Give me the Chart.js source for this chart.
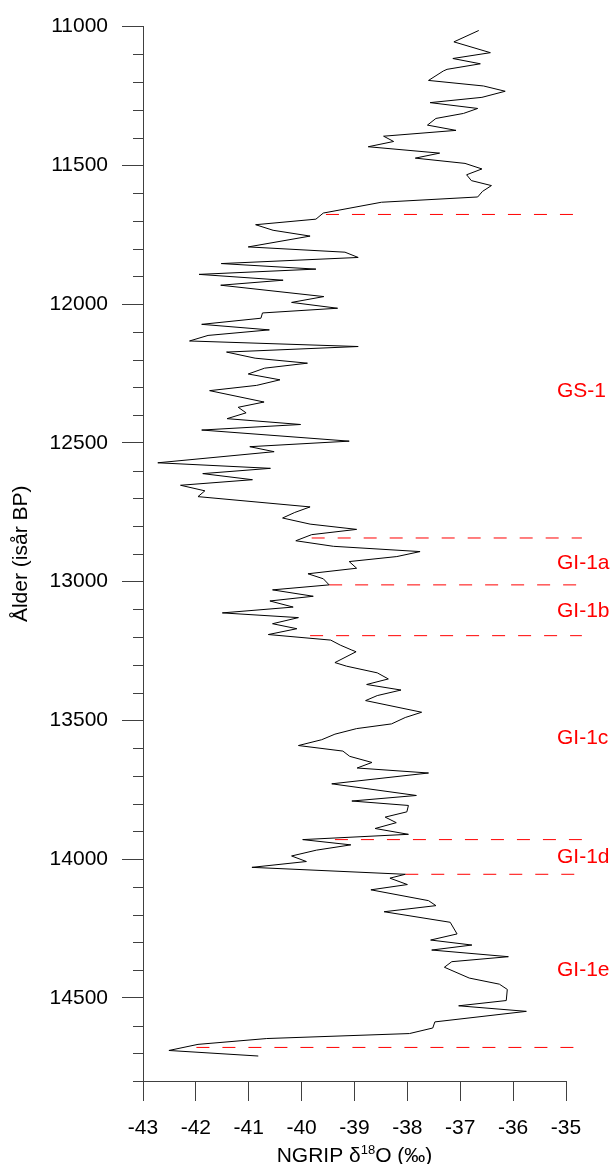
<!DOCTYPE html>
<html lang="sv">
<head>
<meta charset="utf-8" />
<title>NGRIP δ18O</title>
<style>
  html, body { margin: 0; padding: 0; background: #fff; }
  #wrap { width: 613px; height: 1164px; position: relative; }
</style>
<script src="https://cdn.jsdelivr.net/npm/chart.js"></script>
</head>
<body>
<div id="wrap"><canvas id="ngrip"></canvas></div>
<script>
// ålder (isår BP) och d18O, uppifrån och ned
const ages = [
  11014, 11055, 11094, 11115, 11134, 11154, 11160, 11194, 11214, 11233,
  11255, 11274, 11295, 11313, 11331, 11355, 11374, 11395, 11414, 11433,
  11456, 11474, 11493, 11513, 11534, 11555, 11573, 11594, 11614, 11633,
  11672, 11694, 11714, 11734, 11755, 11794, 11813, 11832, 11854, 11874,
  11893, 11914, 11932, 11973, 11994, 12015, 12032, 12051, 12073, 12093,
  12113, 12133, 12153, 12173, 12195, 12213, 12231, 12252, 12273, 12293,
  12312, 12353, 12372, 12392, 12413, 12434, 12454, 12494, 12514, 12532,
  12572, 12592, 12611, 12633, 12653, 12673, 12694, 12731, 12751, 12771,
  12793, 12812, 12831, 12853, 12873, 12892, 12910, 12928, 12952, 12972,
  12990, 13012, 13030, 13053, 13070, 13092, 13113, 13130, 13152, 13170,
  13191, 13211, 13229, 13247, 13253, 13292, 13305, 13329, 13351, 13371,
  13391, 13411, 13429, 13471, 13490, 13513, 13530, 13550, 13570, 13591,
  13611, 13630, 13652, 13672, 13690, 13729, 13771, 13791, 13807, 13830,
  13849, 13869, 13890, 13911, 13930, 13949, 13968, 13989, 14009, 14030,
  14055, 14069, 14092, 14111, 14150, 14168, 14190, 14228, 14270, 14292,
  14310, 14328, 14352, 14370, 14390, 14429, 14451, 14470, 14510, 14529,
  14549, 14587, 14609, 14629, 14647, 14668, 14690, 14710
];
const d18O = [
  -36.65, -37.12, -36.43, -37.14, -36.62, -37.25, -37.32, -37.60, -36.56, -36.15,
  -36.59, -37.57, -36.67, -36.94, -37.46, -37.62, -37.08, -38.45, -38.26, -38.74,
  -37.39, -37.85, -36.91, -36.59, -36.88, -36.79, -36.41, -36.58, -36.67, -38.49,
  -39.59, -39.73, -40.87, -40.54, -39.84, -41.01, -39.18, -38.93, -41.52, -39.73,
  -41.94, -40.35, -41.53, -39.58, -40.19, -39.32, -40.74, -40.77, -41.89, -40.61,
  -41.77, -42.12, -38.93, -41.42, -40.88, -39.89, -40.70, -41.01, -40.41, -40.85,
  -41.74, -40.71, -41.20, -41.05, -41.41, -40.02, -41.89, -39.10, -40.98, -40.52,
  -42.72, -40.59, -41.87, -40.93, -42.29, -41.83, -41.96, -39.84, -40.13, -40.36,
  -39.84, -38.96, -39.81, -40.11, -39.40, -37.76, -38.20, -39.10, -38.96, -39.88,
  -39.59, -39.48, -40.55, -39.78, -40.60, -40.16, -41.50, -40.06, -40.55, -40.09,
  -40.63, -39.45, -39.27, -39.05, -38.97, -39.37, -39.15, -38.57, -38.36, -38.77,
  -38.12, -38.57, -38.79, -37.73, -38.04, -38.30, -38.96, -39.37, -39.62, -40.06,
  -39.22, -39.09, -38.67, -38.95, -37.60, -39.43, -37.83, -39.05, -37.98, -38.01,
  -38.42, -38.21, -38.61, -37.98, -39.98, -39.07, -39.72, -40.19, -39.91, -40.94,
  -38.04, -38.33, -38.00, -38.69, -37.60, -37.46, -38.44, -37.19, -37.06, -37.56,
  -36.78, -37.54, -36.09, -37.16, -37.30, -36.83, -36.26, -36.11, -36.13, -37.03,
  -35.75, -37.48, -37.52, -37.96, -40.66, -41.96, -42.51, -40.82
];

// gränser mellan stadialer/interstadialer (streckade linjer)
const boundaryAges  = [11677, 12843, 13012, 13195, 13930, 14055, 14679];
const boundaryStart = [-39.54, -39.81, -39.48, -39.84, -39.37, -38.04, -41.99];
const boundaryEnd   = -34.70;

const stageNames = ['GS-1', 'GI-1a', 'GI-1b', 'GI-1c', 'GI-1d', 'GI-1e'];
const stageAges  = [12313, 12934, 13106, 13564, 13995, 14399];
const stageX     = -35.17;

const ageTicks = [11000, 11500, 12000, 12500, 13000, 13500, 14000, 14500];
const xTicks = [-43, -42, -41, -40, -39, -38, -37, -36, -35];
const ageMin = 11000, ageMax = 14800, ageMinor = 100;

const axisColor = '#404040';
const fontFam = '"Liberation Sans", Arial, Helvetica, sans-serif';

const extras = {
  id: 'extras',
  afterDraw(chart) {
    const { ctx, scales: { x, y } } = chart;
    ctx.save();
    // små streck på åldersaxeln
    ctx.strokeStyle = axisColor;
    ctx.lineWidth = 1;
    for (let a = ageMin; a <= ageMax; a += ageMinor) {
      if (ageTicks.includes(a)) continue;
      const py = Math.round(y.getPixelForValue(a)) + 0.5;
      ctx.beginPath();
      ctx.moveTo(x.left - 10, py);
      ctx.lineTo(x.left, py);
      ctx.stroke();
    }
    // etiketter
    ctx.fillStyle = '#ff0000';
    ctx.font = '21px ' + fontFam;
    ctx.textAlign = 'left';
    ctx.textBaseline = 'middle';
    const lx = x.getPixelForValue(stageX);
    stageNames.forEach((s, i) => ctx.fillText(s, lx, y.getPixelForValue(stageAges[i])));
    // x-axelns titel med upphöjt 18
    ctx.fillStyle = '#000';
    ctx.textBaseline = 'alphabetic';
    const big = '21px ' + fontFam, small = '13px ' + fontFam;
    const p1 = 'NGRIP δ', p2 = '18', p3 = 'O (‰)';
    ctx.font = big; const w1 = ctx.measureText(p1).width, w3 = ctx.measureText(p3).width;
    ctx.font = small; const w2 = ctx.measureText(p2).width;
    let tx = (x.left + x.right) / 2 - (w1 + w2 + w3) / 2;
    const ty = 1162;
    ctx.font = big; ctx.fillText(p1, tx, ty); tx += w1;
    ctx.font = small; ctx.fillText(p2, tx, ty - 8); tx += w2;
    ctx.font = big; ctx.fillText(p3, tx, ty);
    ctx.restore();
  }
};

const datasets = [{
  data: ages.map((a, i) => ({ x: d18O[i], y: a })),
  showLine: true,
  borderColor: '#000',
  borderWidth: 1,
  pointRadius: 0,
  tension: 0
}];
boundaryAges.forEach((a, i) => {
  datasets.push({
    data: [{ x: boundaryStart[i], y: a }, { x: boundaryEnd, y: a }],
    showLine: true,
    borderColor: '#ff0000',
    borderWidth: 1,
    borderDash: [13, 13],
    pointRadius: 0,
    clip: false
  });
});

new Chart(document.getElementById('ngrip'), {
  type: 'scatter',
  data: { datasets },
  options: {
    responsive: true,
    maintainAspectRatio: false,
    animation: false,
    devicePixelRatio: 1,
    layout: { padding: { top: 19, right: 47, bottom: 0, left: 0 } },
    plugins: { legend: { display: false }, tooltip: { enabled: false } },
    scales: {
      x: {
        type: 'linear',
        min: xTicks[0], max: xTicks[xTicks.length - 1],
        afterFit(s) { s.height = 83; },
        afterBuildTicks(s) { s.ticks = xTicks.map(v => ({ value: v })); },
        ticks: {
          padding: 15,
          color: '#000',
          font: { size: 21, family: fontFam },
          callback: v => String(v)
        },
        grid: { drawOnChartArea: false, tickLength: 20, color: axisColor },
        border: { color: axisColor, width: 1 }
      },
      y: {
        type: 'linear',
        reverse: true,
        min: ageMin, max: ageMax,
        afterFit(s) { s.width = 143; },
        afterBuildTicks(s) { s.ticks = ageTicks.map(v => ({ value: v })); },
        ticks: {
          padding: 14,
          color: '#000',
          font: { size: 21, family: fontFam },
          callback: v => String(v)
        },
        grid: { drawOnChartArea: false, tickLength: 21, color: axisColor },
        border: { color: axisColor, width: 1 },
        title: {
          display: true,
          text: 'Ålder (isår BP)',
          color: '#000',
          font: { size: 21, family: fontFam },
          padding: { top: 9, bottom: 0 }
        }
      }
    }
  },
  plugins: [extras]
});
</script>
</body>
</html>
